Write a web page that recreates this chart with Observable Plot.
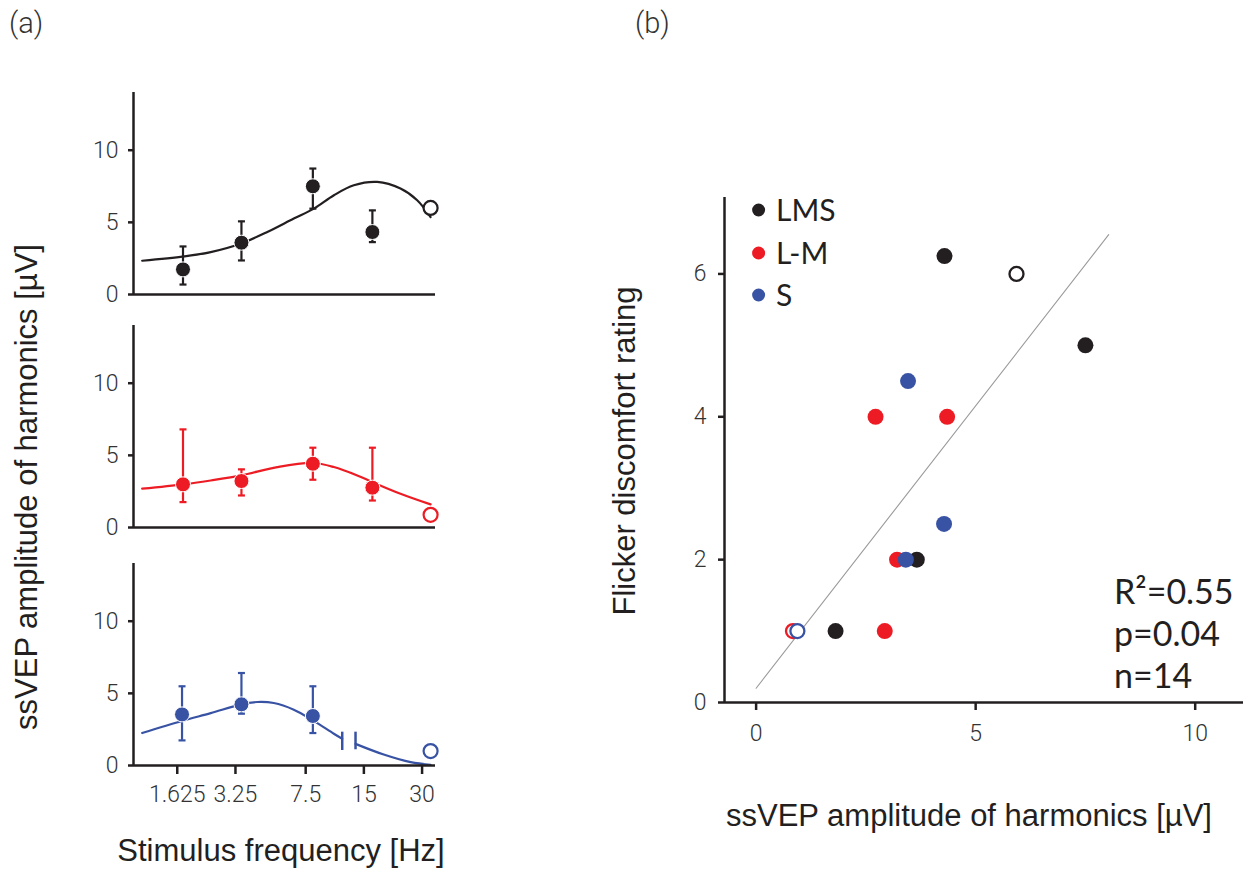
<!DOCTYPE html>
<html>
<head>
<meta charset="utf-8">
<script src="https://cdn.jsdelivr.net/npm/d3@7"></script>
<script src="https://cdn.jsdelivr.net/npm/@observablehq/plot@0.6"></script>
<style>
  html, body { margin: 0; padding: 0; background: #fff; }
  #root { position: relative; width: 1258px; height: 869px; overflow: hidden; background: #fff; }
  .box { position: absolute; }
  .box svg { overflow: visible; max-width: none !important; }
  .box svg [aria-label$="axis tick"] path { stroke-width: 2.5px; }
  .box svg [aria-label$="tick label"] { fill: #333; }
  .box svg text { font-family: Roboto, "Liberation Sans", sans-serif !important; font-weight: 300; font-size: 23px !important; }
</style>
</head>
<body>
<div id="root"></div>
<script>
// ---------------- DATA ----------------
const INK = "#231f20", RED = "#ed1c24", BLUE = "#3953a4";

// Panel (a): frequency axis
const freqTicks = [1.625, 3.25, 7.5, 15, 30];
const freqTickLabels = ["1.625", "3.25", "7.5", "15", "30"];
const ampTicksA = [0, 5, 10];

// LMS (black)
const lmsFreq = [1.74, 3.49, 8.17, 16.6];
const lmsMean = [1.74, 3.59, 7.5, 4.33];
const lmsLo   = [0.69, 2.36, 5.95, 3.63];
const lmsHi   = [3.33, 5.07, 8.73, 5.83];
const lmsOpenFreq = [33.2], lmsOpenVal = [6.0];
const lmsCurveFreq = [1.07, 1.76, 2.42, 3.45, 4.75, 6.51, 8.27, 10.5, 13.3, 17.6, 23.2, 28.3, 33.2];
const lmsCurveVal  = [2.34, 2.64, 2.94, 3.52, 4.33, 5.26, 5.95, 6.88, 7.57, 7.8, 7.34, 6.53, 5.37];

// L-M (red)
const lmFreq = [1.74, 3.49, 8.17, 16.6];
const lmMean = [2.99, 3.22, 4.42, 2.76];
const lmLo   = [1.76, 2.22, 3.31, 1.87];
const lmHi   = [6.8, 4.03, 5.53, 5.53];
const lmOpenFreq = [33.2], lmOpenVal = [0.88];
const lmCurveFreq = [1.07, 1.75, 2.42, 3.48, 5.35, 8.17, 10.49, 13.86, 16.57, 23.2, 33.2];
const lmCurveVal  = [2.69, 2.99, 3.26, 3.61, 4.19, 4.47, 4.19, 3.61, 3.15, 2.34, 1.6];

// S (blue)
const sFreq = [1.72, 3.49, 8.17];
const sMean = [3.54, 4.24, 3.43];
const sLo   = [1.74, 3.59, 2.25];
const sHi   = [5.49, 6.41, 5.49];
const sOpenFreq = [33.2], sOpenVal = [1.0];
const sCurveFreq1 = [1.07, 1.72, 2.42, 3.48, 4.21, 5.13, 6.51, 8.17, 10.49, 11.59];
const sCurveVal1  = [2.25, 3.08, 3.63, 4.24, 4.40, 4.33, 3.87, 3.13, 2.20, 1.85];
const sCurveFreq2 = [13.58, 19.0, 26.2, 33.2];
const sCurveVal2  = [1.5, 0.76, 0.23, 0.05];
const sBreakFreq = [11.59, 13.58];
const sBreakLo   = [1.04, 1.09];
const sBreakHi   = [2.31, 2.31];

// Panel (b): scatter
const ratingTicks = [0, 2, 4, 6];
const ampTicksB = [0, 5, 10];
const bLmsAmp = [4.29, 7.50, 3.66, 1.81], bLmsRating = [6.25, 5, 2, 1];
const bLmsOpenAmp = [5.93], bLmsOpenRating = [6];
const bLmAmp = [2.72, 4.35, 3.21, 2.93], bLmRating = [4, 4, 2, 1];
const bLmOpenAmp = [0.84], bLmOpenRating = [1];
const bSAmp = [3.46, 4.28, 3.41], bSRating = [4.5, 2.5, 2];
const bSOpenAmp = [0.94], bSOpenRating = [1];
const fitAmp = [0, 8.03], fitRating = [0.2, 6.55];

const legendNames = ["LMS", "L-M", "S"];
const legendColors = [INK, RED, BLUE];
const statsLines = ["R\u00B2=0.55", "p=0.04", "n=14"];

// ---------------- HELPERS ----------------
const root = document.getElementById("root");
function place(node, left, top) {
  const d = document.createElement("div");
  d.className = "box";
  d.style.left = left + "px";
  d.style.top = top + "px";
  d.appendChild(node);
  root.appendChild(d);
}
const capSymbol = {
  draw(ctx, size) { const w = Math.sqrt(size / Math.PI); ctx.moveTo(-w, 0); ctx.lineTo(w, 0); }
};
const rows = (f, v, lo, hi) => f.map((d, i) => ({f: d, v: v[i], lo: lo ? lo[i] : null, hi: hi ? hi[i] : null}));
const curveRows = (f, v, seg) => f.map((d, i) => ({f: d, v: v[i], seg}));
const tickLabelMap = new Map(freqTicks.map((d, i) => [d, freqTickLabels[i]]));

const X_DOMAIN = [0.965, 35.2];
const tickStyle = {color: INK, background: "transparent"};

function panelA(cfg) {
  const mt = 12, ph = 202, mb = cfg.showX ? 45 : 6, ml = 133, pw = 302, mr = 8;
  const pts = rows(cfg.f, cfg.v, cfg.lo, cfg.hi);
  const open = rows(cfg.of, cfg.ov);
  const marks = [
    Plot.line(cfg.curve, {x: "f", y: "v", z: "seg", stroke: cfg.color, strokeWidth: 2.2, curve: "catmull-rom"}),
  ];
  if (cfg.breaks) {
    marks.push(Plot.ruleX(cfg.breaks, {x: "f", y1: "lo", y2: "hi", stroke: cfg.color, strokeWidth: 2.5}));
  }
  marks.push(
    Plot.ruleX(pts, {x: "f", y1: "lo", y2: "hi", stroke: cfg.color, strokeWidth: 2.2}),
    Plot.dot(pts, {x: "f", y: "lo", symbol: capSymbol, r: 3.5, fill: "none", stroke: cfg.color, strokeWidth: 2.2}),
    Plot.dot(pts, {x: "f", y: "hi", symbol: capSymbol, r: 3.5, fill: "none", stroke: cfg.color, strokeWidth: 2.2}),
    Plot.dot(pts, {x: "f", y: "v", r: 7.5, fill: cfg.color, stroke: "white", strokeWidth: 1}),
    Plot.dot(open, {x: "f", y: "v", r: 7, fill: "white", stroke: cfg.color, strokeWidth: 2.2}),
    Plot.ruleY([0], {stroke: INK, strokeWidth: 2.5}),
    Plot.ruleX([X_DOMAIN[0]], {stroke: INK, strokeWidth: 2.5})
  );
  const svg = Plot.plot({
    width: ml + pw + mr, height: mt + ph + mb,
    marginLeft: ml, marginRight: mr, marginTop: mt, marginBottom: mb,
    style: tickStyle,
    x: {type: "log", domain: X_DOMAIN, axis: cfg.showX ? "bottom" : null, ticks: freqTicks,
        tickFormat: d => tickLabelMap.get(d), tickSize: 9, tickPadding: 11, label: null},
    y: {domain: [0, 14], ticks: ampTicksA, tickFormat: d => String(d), tickSize: 5, tickPadding: 10, label: null},
    marks
  });
  place(svg, 0, cfg.top - mt);
}

panelA({top: 92, color: INK, f: lmsFreq, v: lmsMean, lo: lmsLo, hi: lmsHi, of: lmsOpenFreq, ov: lmsOpenVal,
        curve: curveRows(lmsCurveFreq, lmsCurveVal, 0), showX: false});
panelA({top: 325, color: RED, f: lmFreq, v: lmMean, lo: lmLo, hi: lmHi, of: lmOpenFreq, ov: lmOpenVal,
        curve: curveRows(lmCurveFreq, lmCurveVal, 0), showX: false});
panelA({top: 563, color: BLUE, f: sFreq, v: sMean, lo: sLo, hi: sHi, of: sOpenFreq, ov: sOpenVal,
        curve: curveRows(sCurveFreq1, sCurveVal1, 0).concat(curveRows(sCurveFreq2, sCurveVal2, 1)),
        breaks: rows(sBreakFreq, sBreakFreq, sBreakLo, sBreakHi), showX: true});

// Panel (b)
(function () {
  const ml = 124, pw = 519, mr = 15, mt = 17, ph = 505, mb = 60;
  const filled = [
    ...rows(bLmsAmp, bLmsRating).map(d => ({...d, c: INK})),
    ...rows(bLmAmp, bLmRating).map(d => ({...d, c: RED})),
    ...rows(bSAmp, bSRating).map(d => ({...d, c: BLUE}))
  ];
  const open = [
    ...rows(bLmsOpenAmp, bLmsOpenRating).map(d => ({...d, c: INK})),
    ...rows(bLmOpenAmp, bLmOpenRating).map(d => ({...d, c: RED})),
    ...rows(bSOpenAmp, bSOpenRating).map(d => ({...d, c: BLUE}))
  ];
  const fit = rows(fitAmp, fitRating);
  const svg = Plot.plot({
    width: ml + pw + mr, height: mt + ph + mb,
    marginLeft: ml, marginRight: mr, marginTop: mt, marginBottom: mb,
    style: tickStyle,
    x: {domain: [-0.72, 11.1], ticks: ampTicksB, tickFormat: d => String(d), tickSize: 8, tickPadding: 14, label: null},
    y: {domain: [0, 7.07], ticks: ratingTicks, tickFormat: d => String(d), tickSize: 6, tickPadding: 12, label: null},
    marks: [
      Plot.line(fit, {x: "f", y: "v", stroke: "#9a9a9a", strokeWidth: 1.1}),
      Plot.dot(filled, {x: "f", y: "v", r: 8, fill: "c", stroke: "none"}),
      Plot.dot(open, {x: "f", y: "v", r: 7, fill: "white", stroke: "c", strokeWidth: 2.3}),
      Plot.ruleY([0], {stroke: INK, strokeWidth: 2.5}),
      Plot.ruleX([-0.72], {stroke: INK, strokeWidth: 2.5})
    ]
  });
  place(svg, 600, 180);
})();

// Overlay text
const ov = d3.create("svg").attr("width", 1258).attr("height", 869)
  .style("position", "absolute").style("left", "0px").style("top", "0px").style("pointer-events", "none");
const light = "Roboto, 'Liberation Sans', sans-serif";
const helv = "'Liberation Sans', Arial, sans-serif";
const myriad = "Lato, 'Open Sans', sans-serif";
ov.append("text").attr("x", 9).attr("y", 33).text("(a)")
  .attr("font-family", light).attr("font-weight", 300).attr("font-size", 29).attr("fill", "#333");
ov.append("text").attr("x", 635).attr("y", 33).text("(b)")
  .attr("font-family", light).attr("font-weight", 300).attr("font-size", 29).attr("fill", "#333");
ov.append("text").attr("transform", "translate(37,487) rotate(-90)").attr("text-anchor", "middle")
  .attr("font-family", helv).attr("font-size", 31).attr("fill", INK).text("ssVEP amplitude of harmonics [\u00B5V]");
ov.append("text").attr("x", 281).attr("y", 861).attr("text-anchor", "middle")
  .attr("font-family", helv).attr("font-size", 31).attr("fill", INK).text("Stimulus frequency [Hz]");
ov.append("text").attr("x", 969).attr("y", 826).attr("text-anchor", "middle")
  .attr("font-family", helv).attr("font-size", 31).attr("fill", INK).text("ssVEP amplitude of harmonics [\u00B5V]");
ov.append("text").attr("transform", "translate(635,451) rotate(-90)").attr("text-anchor", "middle")
  .attr("font-family", helv).attr("font-size", 31).attr("fill", INK).text("Flicker discomfort rating");
const legY = [210, 253, 295];
legendNames.forEach((n, i) => {
  ov.append("circle").attr("cx", 758.6).attr("cy", legY[i]).attr("r", 6.5).attr("fill", legendColors[i]);
  ov.append("text").attr("x", 776).attr("y", legY[i] + 11).text(n)
    .attr("font-family", myriad).attr("font-size", 30).attr("fill", INK);
});
const statY = [604, 646, 688];
statsLines.forEach((s, i) => {
  ov.append("text").attr("x", 1114).attr("y", statY[i]).text(s)
    .attr("font-family", myriad).attr("font-size", 34).attr("fill", INK);
});
root.appendChild(ov.node());
</script>
</body>
</html>
